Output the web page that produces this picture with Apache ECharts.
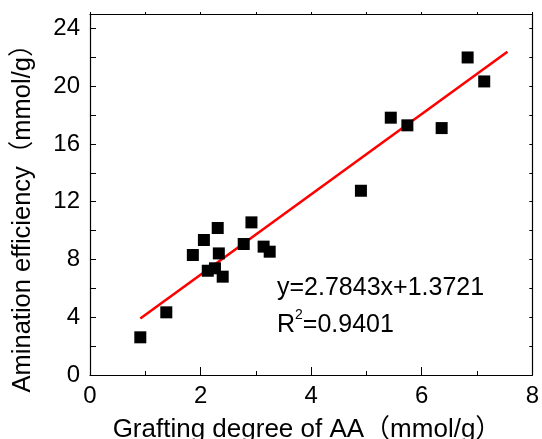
<!DOCTYPE html>
<html>
<head>
<meta charset="utf-8">
<script src="https://cdn.jsdelivr.net/npm/echarts@6/dist/echarts.min.js"></script>
<style>
  html, body { margin: 0; padding: 0; background: #fff; }
  #chart { width: 542px; height: 439px; }
</style>
</head>
<body>
<div id="chart"></div>
<script>
// grafting degree (x) vs amination efficiency (y)
const graftX = [0.91, 1.38, 1.86, 2.06, 2.31, 2.33, 2.13, 2.26, 2.40, 2.78, 2.92, 3.14, 3.25, 4.90, 5.44, 5.74, 6.36, 6.83, 7.13];
const aminY  = [2.61, 4.34, 8.31, 9.35, 10.18, 8.42, 7.22, 7.39, 6.81, 9.07, 10.57, 8.89, 8.54, 12.76, 17.82, 17.29, 17.10, 21.99, 20.33];
// fitted line end points
const fitX = [0.91, 7.55];
const fitY = [3.91, 22.39];

const FONT = "'Liberation Sans', Arial, 'Noto Sans CJK SC', sans-serif";

let chart = echarts.init(document.getElementById('chart'));

chart.setOption({
  animation: false,
  grid: {
    left: 90,
    right: 6,
    top: 14,
    bottom: 64
  },
  xAxis: [
    {
      type: 'value',
      min: 0,
      max: 8,
      interval: 2,
      axisLine: { lineStyle: { color: '#000', width: 1.2 } },
      axisTick: { inside: true, length: 8, lineStyle: { color: '#000' } },
      minorTick: { show: true, splitNumber: 2, length: 4, lineStyle: { color: '#000' } },
      splitLine: { show: false },
      axisLabel: { color: '#000', fontSize: 24, fontFamily: FONT, margin: 9 }
    },
    {
      type: 'value',
      position: 'top',
      min: 0,
      max: 8,
      interval: 1,
      axisLine: { onZero: false, lineStyle: { color: '#000', width: 1.2 } },
      axisTick: { inside: false, length: 2, lineStyle: { color: '#000' } },
      axisLabel: { show: false },
      splitLine: { show: false }
    }
  ],
  yAxis: [
    {
      type: 'value',
      min: 0,
      max: 25,
      interval: 2,
      axisLine: { show: true, lineStyle: { color: '#000', width: 1.2 } },
      axisTick: { show: true, inside: true, length: 6, lineStyle: { color: '#000' } },
      splitLine: { show: false },
      axisLabel: {
        color: '#000',
        fontSize: 24,
        fontFamily: FONT,
        margin: 10,
        formatter: function (v) {
          return v % 4 === 0 ? v : '';
        }
      }
    },
    {
      type: 'value',
      position: 'right',
      min: 0,
      max: 25,
      interval: 2,
      axisLine: { show: true, onZero: false, lineStyle: { color: '#000', width: 1.2 } },
      axisTick: { show: true, inside: true, length: 3, lineStyle: { color: '#000' } },
      axisLabel: { show: false },
      splitLine: { show: false }
    }
  ],
  series: [
    {
      type: 'line',
      data: fitX.map((x, i) => [x, fitY[i]]),
      showSymbol: false,
      lineStyle: { color: '#ff0000', width: 2.6 },
      z: 2
    },
    {
      type: 'scatter',
      data: graftX.map((x, i) => [x, aminY[i]]),
      symbol: 'rect',
      symbolSize: 12,
      itemStyle: { color: '#000', opacity: 1 },
      z: 3
    }
  ],
  graphic: [
    {
      type: 'text',
      left: 277,
      top: 276,
      style: {
        text: 'y=2.7843x+1.3721',
        font: '25px ' + FONT,
        fill: '#000'
      }
    },
    {
      type: 'text',
      left: 277,
      top: 308,
      style: {
        text: '{n|R}{s|2}{n|=0.9401}',
        fill: '#000',
        rich: {
          n: { fontSize: 25, fontFamily: FONT, color: '#000', lineHeight: 30, verticalAlign: 'bottom' },
          s: { fontSize: 14, fontFamily: FONT, color: '#000', lineHeight: 30, verticalAlign: 'top' }
        }
      }
    },
    {
      type: 'text',
      x: 307,
      y: 430,
      style: {
        text: 'Grafting degree of AA（mmol/g）',
        font: '26px ' + FONT,
        fill: '#000',
        align: 'center',
        verticalAlign: 'middle'
      }
    },
    {
      type: 'text',
      x: 23,
      y: 212,
      rotation: Math.PI / 2,
      style: {
        text: 'Amination efficiency（mmol/g）',
        font: '25.5px ' + FONT,
        fill: '#000',
        align: 'center',
        verticalAlign: 'middle'
      }
    }
  ]
});
</script>
</body>
</html>
